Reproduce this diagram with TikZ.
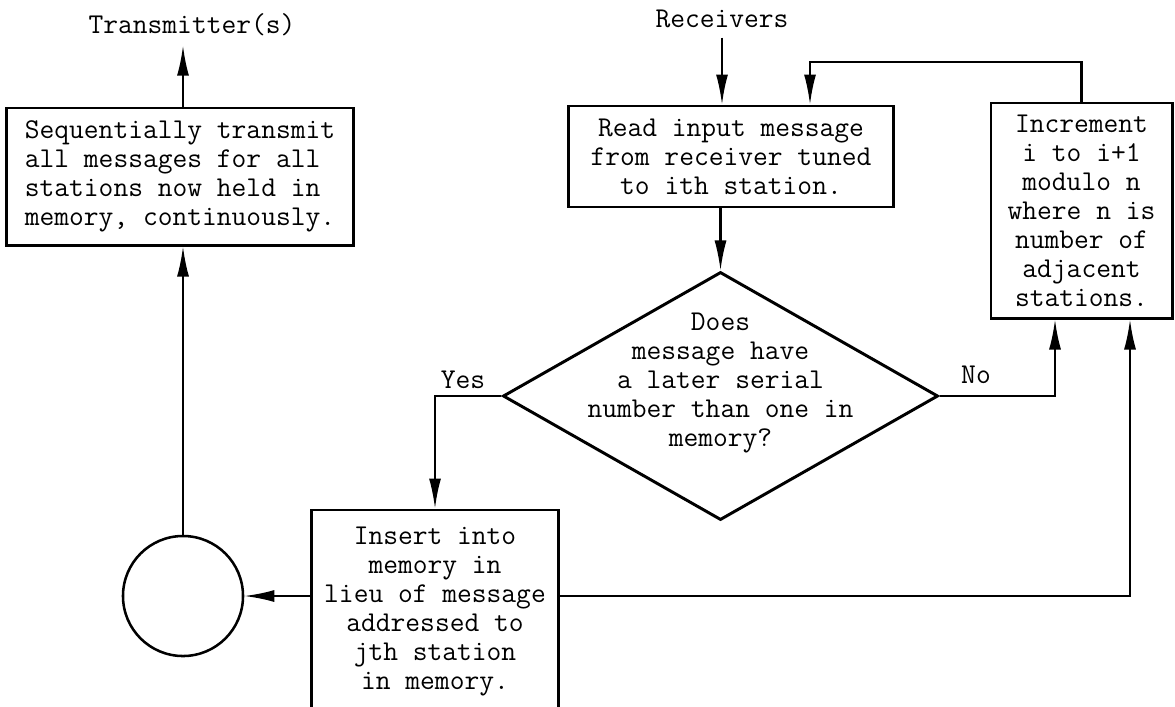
\documentclass[tikz,border=0pt]{standalone}
\usepackage{fontspec}
\usetikzlibrary{shapes.geometric,arrows.meta}
\tikzset{%
    every box/.style={
      rectangle,
      draw,
      line width=2.1pt,
      align=center,
      inner sep=0pt
    },
    decision/.style={
      diamond,
      draw,
      line width=2.1pt,
      inner sep=0pt,
      minimum width=10.875cm,
      minimum height=6.2cm
    },
    tag/.style={
      anchor=base,
      inner sep=0.25cm
    },
    flow/.style={
      line width=1.5pt,
      -{Latex[length=7.5mm, width=3mm]}
    }
  }

\begin{document}
\begin{tikzpicture}[x=0.025cm, y=-0.025cm, font=\ttfamily\fontsize{20.4pt}{20.6pt}\selectfont]
      \useasboundingbox (0,0) rectangle (1175,706);

      \node [every box, align=left, minimum width=8.65cm, minimum height=3.425cm] (tx) at (180,176.5) {Sequentially transmit\\all messages for all\\stations now held in\\memory, continuously.};
      \node [every box, minimum width=8.1cm, minimum height=2.525cm] (read) at (731,156.5) {Read input message\\from receiver tuned\\to ith station.};
      \node [every box, minimum width=4.525cm, minimum height=5.375cm] (inc) at (1081.5,210.5) {Increment\\i to i+1\\modulo n\\where n is\\number of\\adjacent\\stations.};

      \node [decision] (dec) at (720.5,396) {};
      \node [align=center] (ask) at (720.5,383) {Does\\message have\\a later serial\\number than one in\\memory?};

      \node [every box, minimum width=6.15cm, minimum height=5.075cm] (ins) at (435,611.5) {Insert into\\memory in\\lieu of message\\addressed to\\jth station\\in memory.};
      \node [circle, draw, line width=1.8pt, minimum size=3cm] (mem) at (183,596) {};

      \node [tag] (trans) at (192,33) {Transmitter(s)};
      \node [tag] (recv) at (722,27) {Receivers};
      \node [tag, inner sep=0pt] (yes) at (463,388) {Yes};
      \node [tag, inner sep=0pt] (no) at (976,383) {No};

      \draw [flow] (mem.north) -- (mem.north |- tx.south);
      \draw [flow] (mem.north |- tx.north) -- (mem.north |- trans.south);

      \draw [flow] (recv.south) -- (recv.south |- read.north);
      \draw [flow] (dec.north |- read.south) -- (dec.north);

      \coordinate (back) at (810,62);
      \draw [flow] (inc.north) |- (back) -- (back |- read.north);

      \draw [flow] (dec.west) -| (ins.north);
      \draw [flow] (dec.east) -| (1055,0 |- inc.south);

      \draw [flow] (ins.west |- mem) -- (mem);
      \draw [flow] (ins.east |- mem) -| (1130,0 |- inc.south);
\end{tikzpicture}
\end{document}
